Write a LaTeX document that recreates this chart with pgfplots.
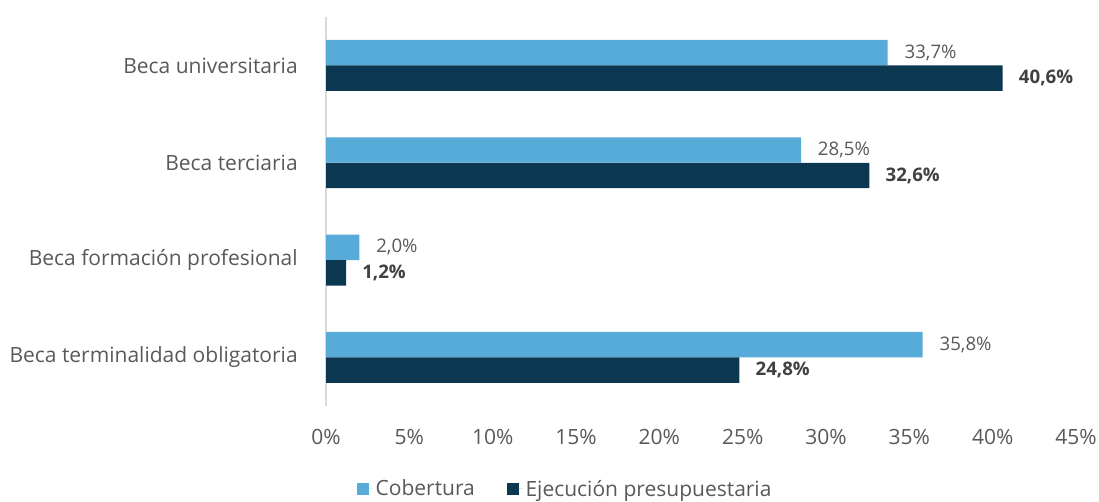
\documentclass[border=0pt]{standalone}
\usepackage{pgfplots}
\pgfplotsset{compat=1.18}
\usepackage{fontspec}
\setmainfont{Open Sans}
\definecolor{lightb}{RGB}{87,171,216}
\definecolor{darkb}{RGB}{11,55,80}
\definecolor{txt}{RGB}{89,89,89}
\definecolor{txtb}{RGB}{64,64,64}
\definecolor{axl}{RGB}{217,217,217}
\newcommand\f{\fontsize{14}{16.8}\selectfont}
\newcommand\g{\fontsize{15.75}{18.9}\selectfont}
\begin{document}
\begin{tikzpicture}
\useasboundingbox (0,0) rectangle (824.25pt,376.5pt);
\begin{axis}[
  at={(244.5pt,72pt)}, anchor=south west,
  scale only axis, width=562.5pt, height=291.9pt,
  xmin=0, xmax=45, ymin=-0.5, ymax=3.5,
  xbar, bar width=19.1pt,
  clip=false,
  /pgf/number format/assume math mode=true,
  axis x line*=bottom, x axis line style={draw=none},
  axis y line*=left, y axis line style={draw=axl, line width=1.5pt},
  major tick length=0pt,
  xtick={0,5,...,45},
  xticklabel={\pgfmathprintnumber{\tick}\%},
  xticklabel style={font=\g, text=txt, anchor=base, yshift=-28.9pt},
  ytick={0,1,2,3},
  yticklabels={Beca terminalidad obligatoria, Beca formación profesional, Beca terciaria, Beca universitaria},
  yticklabel style={font=\g, text=txt, anchor=east, inner sep=0pt, xshift=-21pt},
  nodes near coords={\pgfmathprintnumber[fixed,fixed zerofill,precision=1,use comma]{\pgfplotspointmeta}\%},
  nodes near coords align=horizontal,
  legend style={draw=none, legend columns=2, at={(rel axis cs:0,0)}, anchor=west,
    xshift=23pt, yshift=-62.25pt, inner sep=0pt, font=\g, text=txt,
    /tikz/every even column/.append style={column sep=22pt}},
  legend image code/.code={\fill[#1] (0pt,-4.5pt) rectangle (9pt,4.5pt); \path (0pt,0pt) -- (12pt,0pt);},
]
\addplot[fill=lightb, draw=none, bar shift=9.56pt,
  every node near coord/.append style={font=\f, text=txt, anchor=west, inner sep=0pt, xshift=12.5pt}]
  coordinates {(35.8,0) (2.0,1) (28.5,2) (33.7,3)};
\addlegendentry{Cobertura}
\addplot[fill=darkb, draw=none, bar shift=-9.56pt,
  every node near coord/.append style={font=\f\bfseries, text=txtb, anchor=west, inner sep=0pt, xshift=12pt}]
  coordinates {(24.8,0) (1.2,1) (32.6,2) (40.6,3)};
\addlegendentry{Ejecución presupuestaria}
\end{axis}
\end{tikzpicture}
\end{document}
